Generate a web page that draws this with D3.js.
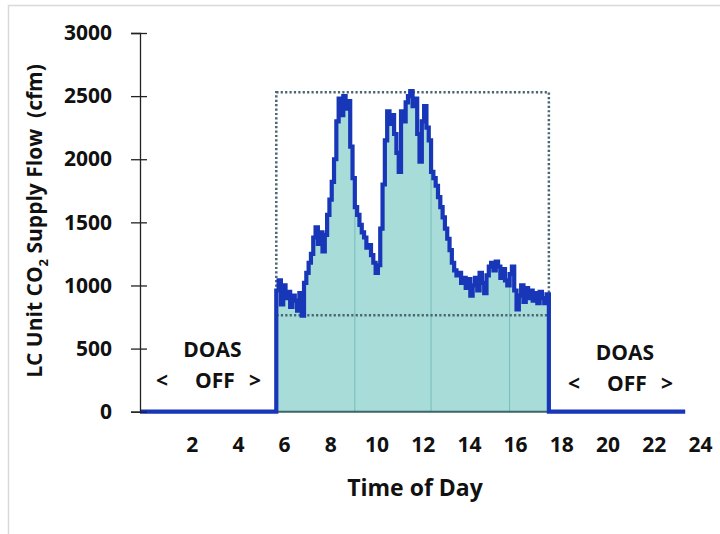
<!DOCTYPE html>
<html><head><meta charset="utf-8">
<script src="https://cdn.jsdelivr.net/npm/d3@7"></script>
<style>
html,body{margin:0;padding:0;background:#fff;}
svg{display:block;font-family:"Open Sans",Lato,sans-serif;}
</style></head>
<body>
<svg id="chart" width="720" height="534"></svg>
<script>
// ---- data ----
const yTicks = [0, 500, 1000, 1500, 2000, 2500, 3000];
const xTickLabels = [2, 4, 6, 8, 10, 12, 14, 16, 18, 20, 22, 24];
const dayStart = 0, onStart = 5.9, dayEnd = 23.6; // hours
const sampleStep = 0.1; // hours between readings while DOAS runs
const flowValues = [
  960, 1040, 850, 1000, 900, 950, 830, 920, 880, 800, 940, 760,
  1020, 1100, 1180, 1250, 1380, 1460, 1330, 1420, 1270, 1400, 1560, 1680,
  1820, 2000, 2300, 2480, 2350, 2500, 2400, 2460, 2100, 1850, 1620, 1560,
  1480, 1420, 1380, 1300, 1320, 1240, 1180, 1100, 1160, 1450, 1800, 2150,
  2380, 2280, 2350, 2200, 2050, 1900, 2380, 2300, 2450, 2500, 2540, 2420,
  2480, 2200, 1980, 2300, 2420, 2250, 2150, 1900, 1850, 1790, 1700, 1620,
  1540, 1450, 1370, 1280, 1180, 1120, 1080, 1100, 1020, 1060, 980, 1050,
  920, 1000, 1060, 960, 1100, 1020, 940, 1080, 1150, 1180, 1120, 1190,
  1150, 1060, 1130, 1040, 1000, 1090, 1150, 960, 810, 920, 1000, 870,
  980, 900, 960, 880, 940, 860, 950, 900, 860, 930, 880
];
const boxMin = 765, boxMax = 2530;          // dotted range box
const gridHours = [9.3, 12.6, 16.0];        // thin lines inside fill
const yTitle = ["LC Unit CO", "2", " Supply Flow\u00a0 (cfm)"];
const xTitle = "Time of Day";
const offWords = ["DOAS", "<", "OFF", ">"];

// ---- build series ----
const onSeries = flowValues.map((v, i) => ({h: onStart + i * sampleStep, v}));
const lastOn = onSeries[onSeries.length - 1].h;
const fullSeries = [{h: dayStart, v: 0}, {h: onStart, v: 0}]
  .concat(onSeries)
  .concat([{h: lastOn, v: 0}, {h: dayEnd, v: 0}]);

const svg = d3.select("#chart");
const x = d3.scaleLinear().domain([0, 24]).range([140, 694.4]);
const y = d3.scaleLinear().domain([0, 3000]).range([411.7, 33]);

// frame
svg.append("rect").attr("x", 8.5).attr("y", 5.5).attr("width", 718).attr("height", 540)
  .attr("fill", "none").attr("stroke", "#d9d9d9").attr("stroke-width", 1.5);

// area fill
const area = d3.area().curve(d3.curveStepAfter).x(d => x(d.h)).y0(y(0)).y1(d => y(d.v));
const areaData = [{h: onStart, v: 0}].concat(onSeries).concat([{h: lastOn, v: 0}]);
svg.append("defs").append("clipPath").attr("id", "fillclip")
  .append("path").attr("d", area(areaData));
svg.append("path").attr("d", area(areaData)).attr("fill", "#a8dcd9");

// gridlines inside fill
svg.append("g").attr("clip-path", "url(#fillclip)").selectAll("line")
  .data(gridHours).join("line")
  .attr("x1", d => x(d)).attr("x2", d => x(d))
  .attr("y1", y(0)).attr("y2", y(3000))
  .attr("stroke", "#74bdb9").attr("stroke-width", 1);

// x baseline
svg.append("line").attr("x1", x(dayStart)).attr("x2", x(dayEnd))
  .attr("y1", y(0)).attr("y2", y(0)).attr("stroke", "#3d6566").attr("stroke-width", 2);

// dotted range box
svg.append("rect")
  .attr("x", x(onStart)).attr("y", y(boxMax))
  .attr("width", x(lastOn) - x(onStart)).attr("height", y(boxMin) - y(boxMax))
  .attr("fill", "none").attr("stroke", "#4a6573").attr("stroke-width", 2.5)
  .attr("stroke-dasharray", "2.2,2.2");

// data line
const line = d3.line().curve(d3.curveStepAfter).x(d => x(d.h)).y(d => y(d.v));
svg.append("path").datum(fullSeries).attr("d", line)
  .attr("fill", "none").attr("stroke", "#1737b8").attr("stroke-width", 4.2)
  .attr("stroke-linejoin", "miter");

// y axis
const yAxis = svg.append("g").attr("transform", `translate(${x(0)},0)`)
  .call(d3.axisLeft(y).tickValues(yTicks).tickFormat(d3.format("d")).tickSize(9).tickPadding(19));
yAxis.select(".domain").attr("stroke", "#222").attr("stroke-width", 1.3);
yAxis.selectAll(".tick line").attr("x1", -9).attr("x2", 7).attr("stroke", "#222").attr("stroke-width", 1.3);
yAxis.selectAll(".tick text").attr("font-size", 21).attr("font-weight", 700)
  .attr("fill", "#111").attr("font-family", "'Open Sans', sans-serif");

// x axis labels
const xAxis = svg.append("g").attr("transform", `translate(0,${y(0)})`)
  .call(d3.axisBottom(x).tickValues(xTickLabels).tickSize(0).tickPadding(25));
xAxis.select(".domain").remove();
xAxis.selectAll(".tick text").attr("font-size", 21).attr("font-weight", 700)
  .attr("fill", "#111").attr("dx", 5.5).attr("font-family", "'Open Sans', sans-serif");

// axis titles
svg.append("text").attr("x", 415).attr("y", 496).attr("text-anchor", "middle")
  .attr("font-size", 23).attr("font-weight", 700).attr("fill", "#111").text(xTitle);

const yt = svg.append("text").attr("transform", "translate(42,221) rotate(-90)")
  .attr("text-anchor", "middle").attr("font-size", 21).attr("font-weight", 700).attr("fill", "#111");
yt.append("tspan").text(yTitle[0]);
yt.append("tspan").attr("font-size", 13).attr("dy", 6).text(yTitle[1]);
yt.append("tspan").attr("dy", -6).text(yTitle[2]);

// DOAS OFF labels
function offLabel(cx, by, offCx) {
  const g = svg.append("g").attr("font-size", 21).attr("font-weight", 700).attr("fill", "#111")
    .attr("text-anchor", "middle");
  g.append("text").attr("x", cx).attr("y", by).text(offWords[0]);
  g.append("text").attr("x", offCx - 53).attr("y", by + 31).text(offWords[1]);
  g.append("text").attr("x", offCx).attr("y", by + 31).text(offWords[2]);
  g.append("text").attr("x", offCx + 40).attr("y", by + 31).text(offWords[3]);
}
offLabel(212.5, 357, 215);
offLabel(625, 360, 627);
</script>
</body></html>
